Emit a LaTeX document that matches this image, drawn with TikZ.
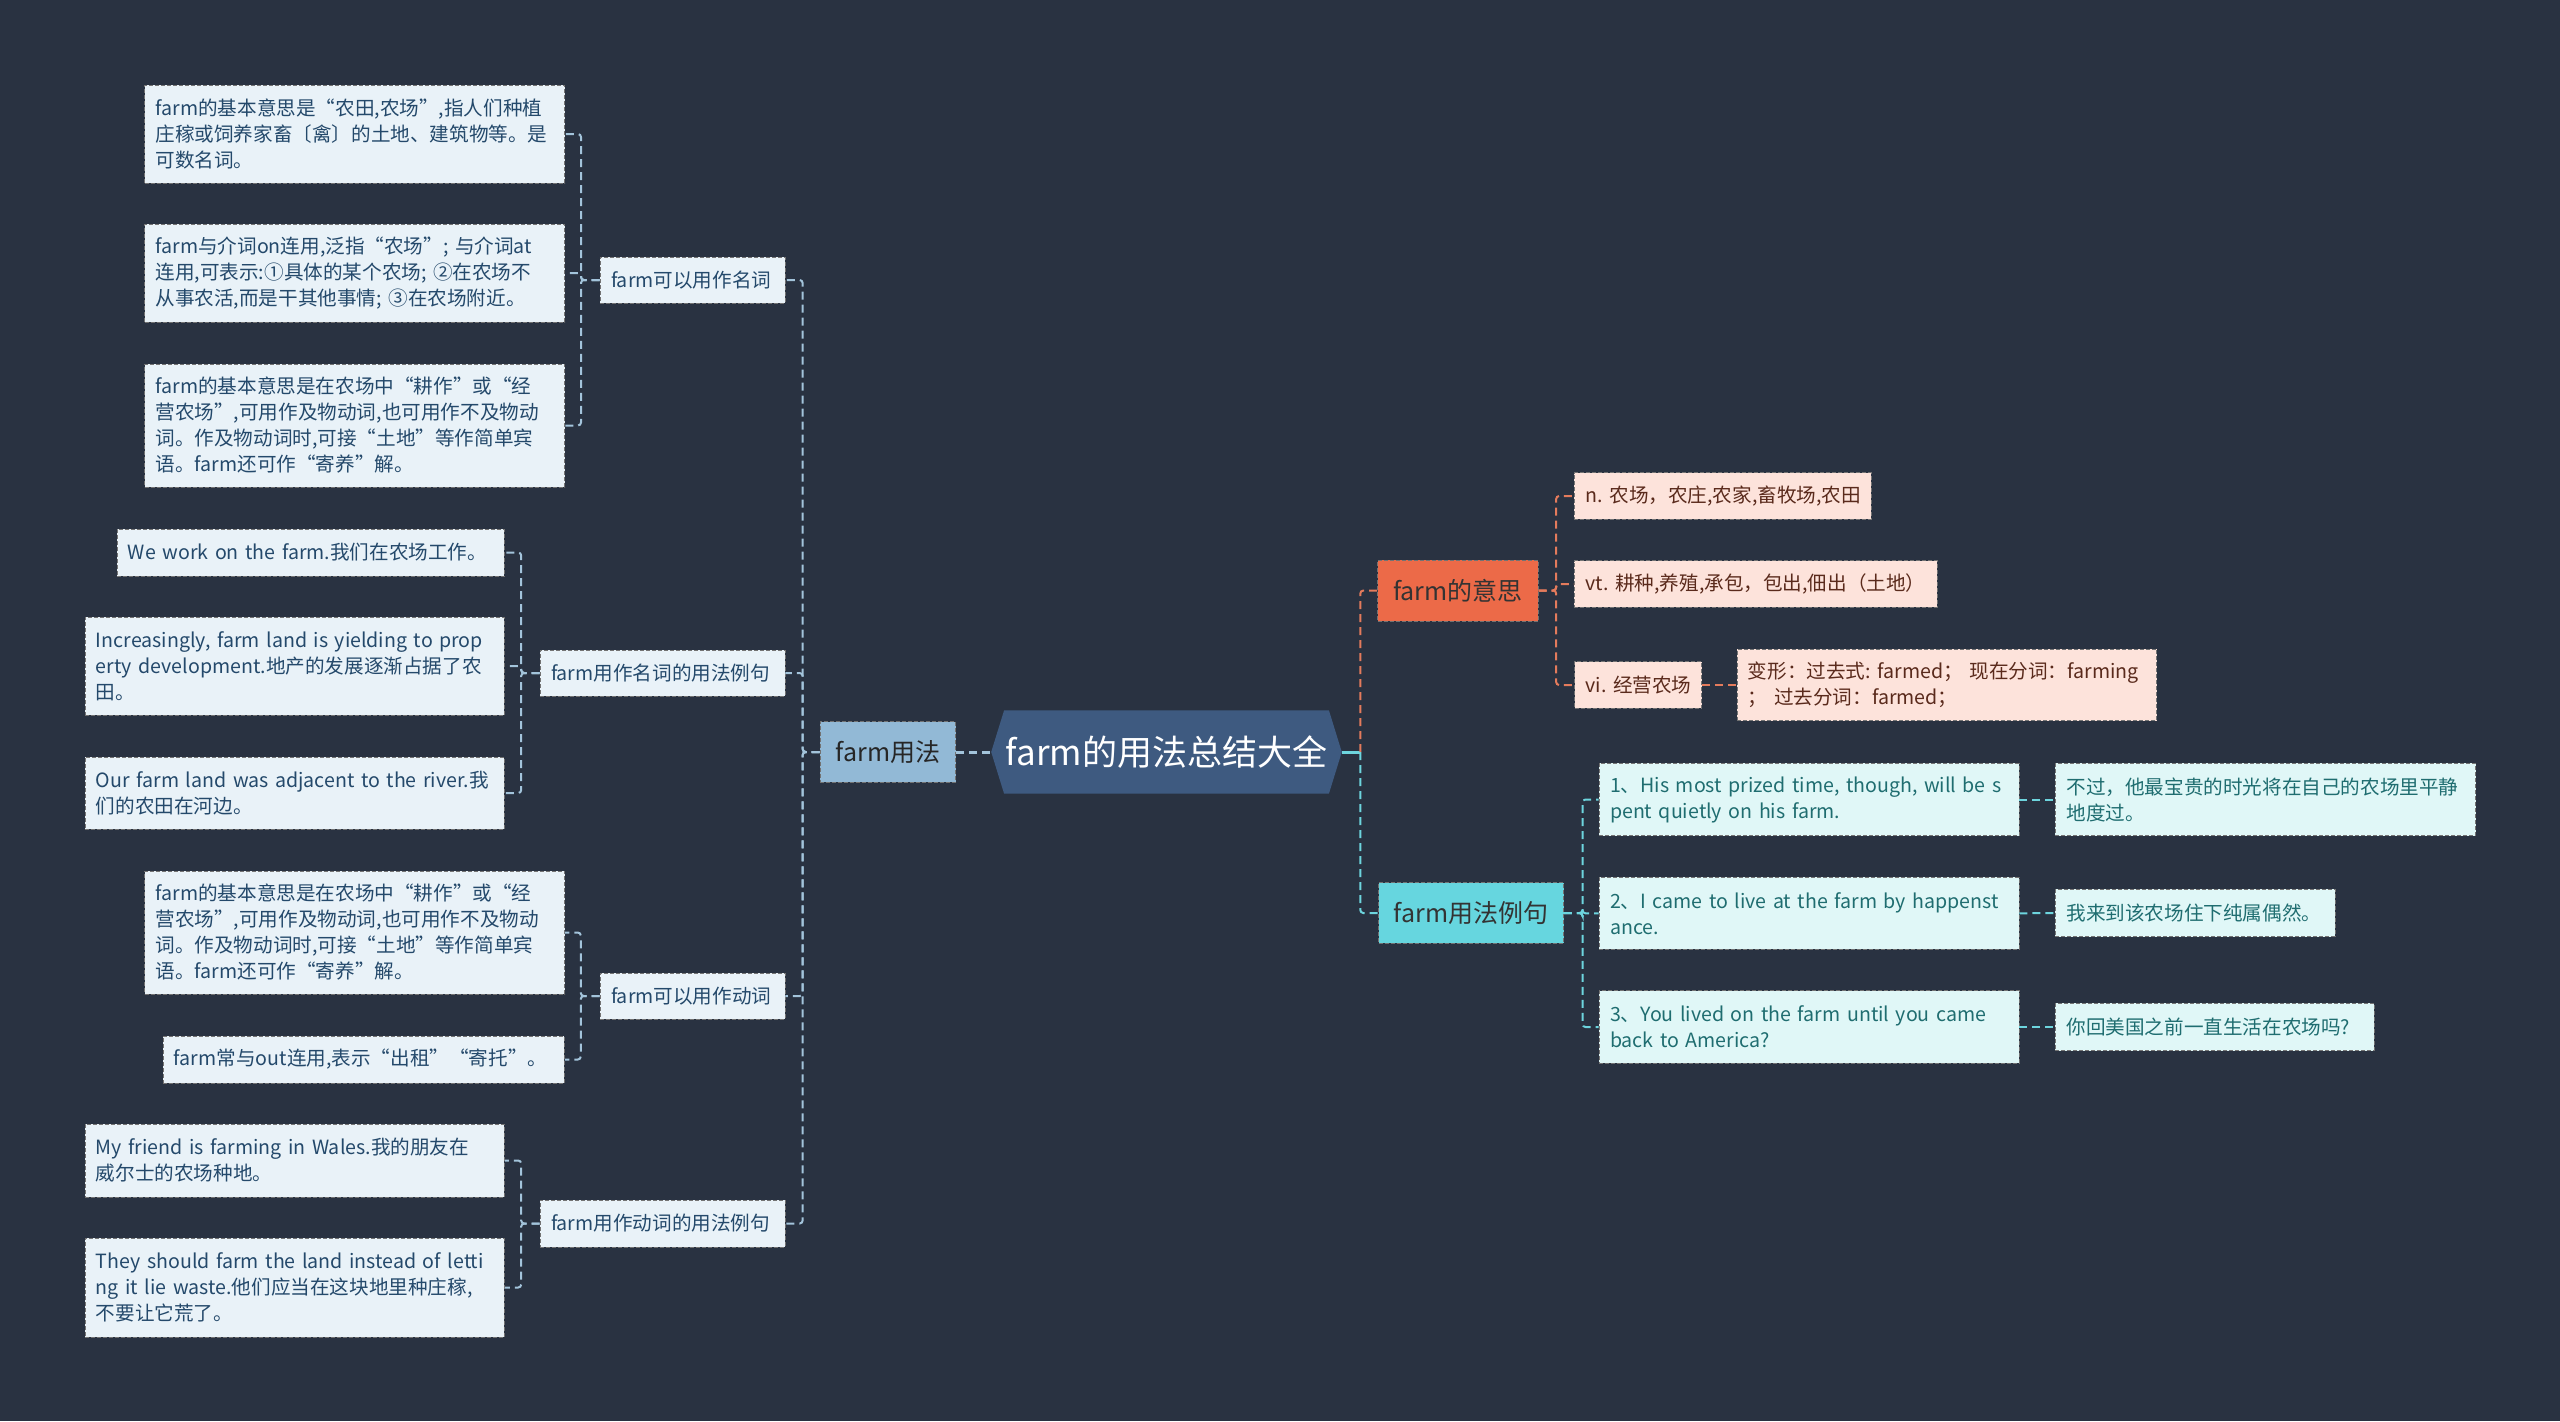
\documentclass[tikz,border=0pt]{standalone}
\usepackage{fontspec}
\setmainfont{Noto Sans CJK SC}
\usepackage{xcolor}
\usepackage{tikz}
\usetikzlibrary{backgrounds}
\definecolor{bgcol}{HTML}{293241}
\definecolor{bluebox}{HTML}{E9F2F8}
\definecolor{bluetext}{HTML}{24496B}
\definecolor{blueline}{HTML}{A3C4DB}
\definecolor{usefill}{HTML}{92B9D6}
\definecolor{rootfill}{HTML}{3E5A80}
\definecolor{meanfill}{HTML}{EC6A48}
\definecolor{orabox}{HTML}{FDE3DB}
\definecolor{oratext}{HTML}{5A2A1C}
\definecolor{oraline}{HTML}{E47B5C}
\definecolor{exfill}{HTML}{66D6DF}
\definecolor{cyanbox}{HTML}{E0F7F7}
\definecolor{cyantext}{HTML}{1F6D70}
\definecolor{cyanline}{HTML}{6DD5DE}
\hyphenpenalty=10000
\exhyphenpenalty=10000

\begin{document}
\begin{tikzpicture}[x=0.5pt,y=-0.5pt,
  box/.style 2 args={draw=black!55,dash pattern=on 2pt off 1pt,line width=0.4pt,
    minimum width=#1*0.5pt,minimum height=#2*0.5pt,text width=#1*0.5pt-11pt,
    inner xsep=5.5pt,inner ysep=2pt,align=left,
    font=\fontsize{9.8}{13}\selectfont},
  leaf/.style={fill=bluebox,text=bluetext},
  ora/.style={fill=orabox,text=oratext},
  cya/.style={fill=cyanbox,text=cyantext},
  topic/.style={align=center,font=\fontsize{12.5}{15}\selectfont},
  lline/.style={draw=blueline,line width=1pt,dash pattern=on 4pt off 2.5pt,rounded corners=1.5pt},
  oline/.style={draw=oraline,line width=1pt,dash pattern=on 4pt off 2.5pt,rounded corners=1.5pt},
  cline/.style={draw=cyanline,line width=1pt,dash pattern=on 4pt off 2.5pt,rounded corners=1.5pt}
]
% root
\node[minimum width=162pt,minimum height=41.3pt,inner sep=0pt,text=white,
  font=\fontsize{17.5}{21}\selectfont] (root) at (1166.5,752) {farm的用法总结大全};
\coordinate (rootW) at ([xshift=-6.45pt]root.west);
\coordinate (rootE) at ([xshift=6.45pt]root.east);
\begin{scope}[on background layer]
\fill[bgcol] (0,0) rectangle (2560,1421);
\fill[rootfill] (rootW) -- (root.north west) -- (root.north east) -- (rootE)
  -- (root.south east) -- (root.south west) -- cycle;
\end{scope}

% left branch
\node[box={135.7}{60.6},topic,fill=usefill,text=black!85] (use) at (887.9,752) {farm用法};

\node[box={185}{46},leaf] (n1) at (692.5,280) {farm可以用作名词};
\node[box={245}{46},leaf] (n2) at (662.5,673) {farm用作名词的用法例句};
\node[box={185}{46},leaf] (n3) at (692.5,996) {farm可以用作动词};
\node[box={245}{47},leaf] (n4) at (662.5,1223.5) {farm用作动词的用法例句};

\node[box={420}{98},leaf] (n1a) at (354.5,134) {farm的基本意思是“农田,农场”,指人们种植\\庄稼或饲养家畜〔禽〕的土地、建筑物等。是\\可数名词。};
\node[box={420}{98},leaf] (n1b) at (354.5,273) {farm与介词on连用,泛指“农场”; 与介词at\\连用,可表示:①具体的某个农场; ②在农场不\\从事农活,而是干其他事情; ③在农场附近。};
\node[box={420}{123},leaf] (n1c) at (354.5,425.5) {farm的基本意思是在农场中“耕作”或“经\\营农场”,可用作及物动词,也可用作不及物动\\词。作及物动词时,可接“土地”等作简单宾\\语。farm还可作“寄养”解。};

\node[box={387.5}{47},leaf] (n2a) at (310.7,552.5) {We work on the farm.我们在农场工作。};
\node[box={419.5}{98},leaf] (n2b) at (294.7,666) {Increasingly, farm land is yielding to prop\\erty development.地产的发展逐渐占据了农\\田。};
\node[box={419.5}{72},leaf] (n2c) at (294.7,793) {Our farm land was adjacent to the river.我\\们的农田在河边。};

\node[box={420}{123},leaf] (n3a) at (354.5,932.5) {farm的基本意思是在农场中“耕作”或“经\\营农场”,可用作及物动词,也可用作不及物动\\词。作及物动词时,可接“土地”等作简单宾\\语。farm还可作“寄养”解。};
\node[box={401.5}{47},leaf] (n3b) at (363.7,1059.5) {farm常与out连用,表示“出租”“寄托”。};

\node[box={419.5}{73},leaf] (n4a) at (294.7,1160.5) {My friend is farming in Wales.我的朋友在\\威尔士的农场种地。};
\node[box={419.5}{99},leaf] (n4b) at (294.7,1287.5) {They should farm the land instead of letti\\ng it lie waste.他们应当在这块地里种庄稼,\\不要让它荒了。};

% right branch
\node[box={160.5}{61},topic,fill=meanfill,text=black!80] (mean) at (1458,590.5) {farm的意思};
\node[box={296.5}{46.6},ora] (ma) at (1722.7,496) {n.~农场，农庄,农家,畜牧场,农田};
\node[box={362.5}{46.6},ora] (mb) at (1755.7,584) {vt.~耕种,养殖,承包，包出,佃出（土地）};
\node[box={127}{46.6},ora] (mc) at (1638,685) {vi.~经营农场};
\node[box={419.7}{71.4},ora] (md) at (1946.8,685) {变形：过去式:~farmed；~现在分词：farming\\；~过去分词：farmed；};

\node[box={185}{60.6},topic,fill=exfill,text=black!80] (ex) at (1471,913) {farm用法例句};
\node[box={420}{72.4},cya] (ea) at (1809,799.5) {1、His most prized time, though, will be s\\pent quietly on his farm.};
\node[box={420}{72}, cya] (eb) at (1809,913.3) {2、I came to live at the farm by happenst\\ance.};
\node[box={420}{72.6},cya] (ec) at (1809,1027) {3、You lived on the farm until you came\\back to America?};
\node[box={420.2}{72.4},cya] (ta) at (2265.5,799.5) {不过，他最宝贵的时光将在自己的农场里平静\\地度过。};
\node[box={279.6}{47.4},cya] (tb) at (2195.2,913) {我来到该农场住下纯属偶然。};
\node[box={318.6}{47.4},cya] (tc) at (2214.7,1027) {你回美国之前一直生活在农场吗?};

% connectors
\draw[lline,line width=1.5pt] (use.east) -- (rootW);
\foreach \n in {n1,n2,n3,n4}
  \draw[lline] (use.west) -- ++(-17,0) |- (\n.east);
\foreach \n in {n1a,n1b,n1c}
  \draw[lline] (n1.west) -- ++(-18.6,0) |- (\n.east);
\foreach \n in {n2a,n2b,n2c}
  \draw[lline] (n2.west) -- ++(-18.4,0) |- (\n.east);
\foreach \n in {n3a,n3b}
  \draw[lline] (n3.west) -- ++(-18.8,0) |- (\n.east);
\foreach \n in {n4a,n4b}
  \draw[lline] (n4.west) -- ++(-18.4,0) |- (\n.east);

\draw[draw=cyanline,line width=1.5pt] (rootE) -- ++(18.5,0) coordinate (rb);
\draw[oline] (rb) |- (mean.west);
\draw[cline] (rb) |- (ex.west);
\foreach \n in {ma,mb,mc}
  \draw[oline] (mean.east) -- ++(17.5,0) |- (\n.west);
\draw[oline] (mc.east) -- (md.west);
\foreach \n in {ea,eb,ec}
  \draw[cline] (ex.east) -- ++(18.6,0) |- (\n.west);
\foreach \a/\b in {ea/ta,eb/tb,ec/tc}
  \draw[cline] (\a.east) -- (\b.west);
\end{tikzpicture}
\end{document}
